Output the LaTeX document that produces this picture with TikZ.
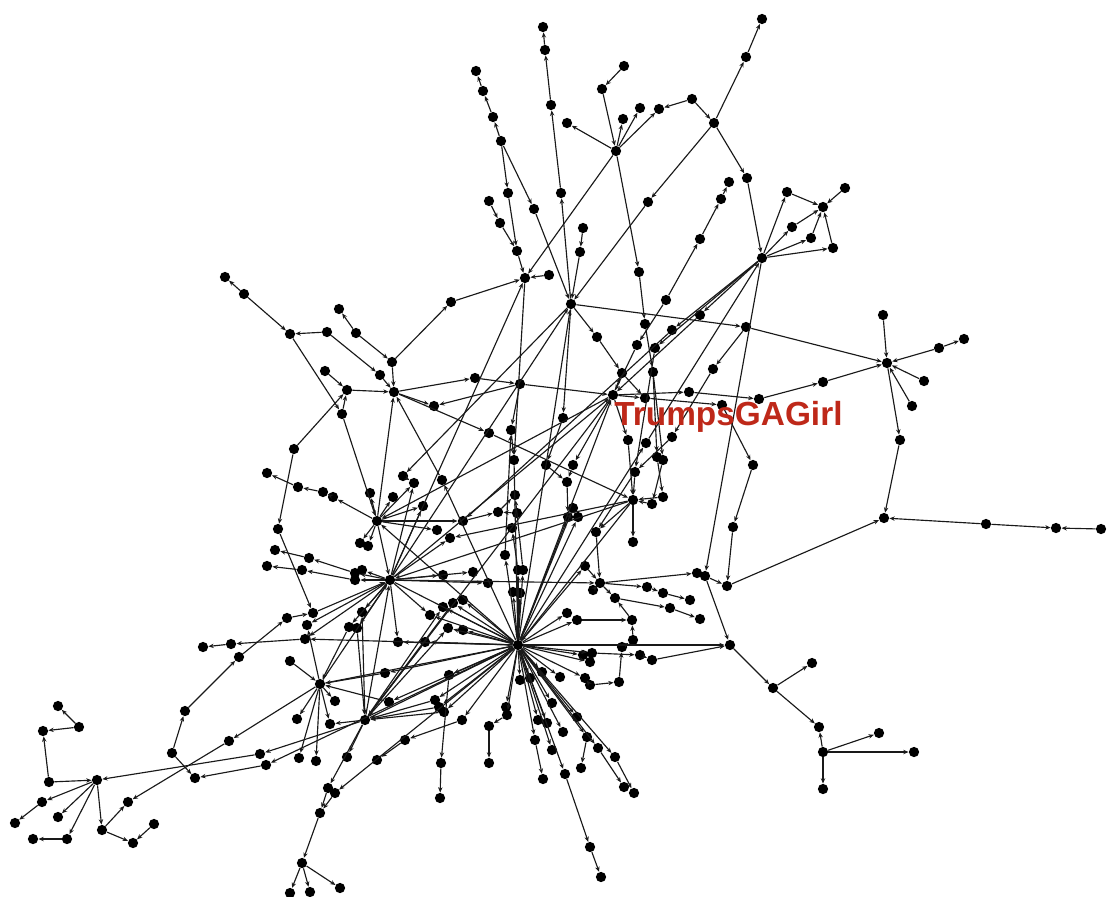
\documentclass[tikz,border=0pt]{standalone}
\usepackage{fontspec}
\setmainfont{Liberation Sans}
\usetikzlibrary{arrows.meta}
\definecolor{labred}{RGB}{190,40,25}
\begin{document}
\begin{tikzpicture}[x=0.02cm,y=-0.02cm,
  dot/.style={circle,fill=black,inner sep=0pt,minimum size=0.205cm},
  e/.style={draw=black!90,line width=0.65pt,-{Stealth[length=3pt,width=2.5pt]}}]
\useasboundingbox (0,0) rectangle (1114,896);
% hubs
\foreach \n/\x/\y in {H1/518/645,H2/390/580,H3/365/720,H4/320/684,H5/97/780,H6/613/395,H7/571/304,H8/525/278,H9/616/151,H10/714/123,H11/762/258,H12/823/207,H13/887/363,H14/884/518,H15/600/583,H16/633/500,H17/377/521,H18/394/392,H19/730/645,H20/823/752}
  \node[dot] (\n) at (\x,\y) {};
% top
\foreach \n/\x/\y in {t1/543/27,t2/545/50,t3/551/105,t4/561/193,a1/476/71,a2/483/91,a3/493/117,a4/501/141,a5/508/193,a6/517/251,a7/534/209,b1/489/201,b2/500/223,c1/583/228,c2/580/252,d1/549/275,d2/451/302,e1/567/123,e2/623/119,e3/640/108,e4/659/109,e5/692/99,e6/602/89,e7/624/66,f1/639/272,f2/645/324,g1/746/57,g2/762/19,g3/648/202,k1/747/178,k2/729/182,k3/721/199,k4/700/239,k5/666/300,m1/787/192,m2/845/188,m3/792/227,m4/811/238,m5/833/248}
  \node[dot] (\n) at (\x,\y) {};
% right
\foreach \n/\x/\y in {r1/746/327,r2/883/315,r3/939/348,r4/964/339,r5/924/381,r6/912/406,r7/823/382,r8/759/399,r9/900/440,r10/986/524,r11/1056/528,r12/1101/529,r13/689/392,r14/700/315,r15/672/330,r16/753/465,r17/733/527,r18/727/586,r19/705/576,r20/697/573,r21/722/405}
  \node[dot] (\n) at (\x,\y) {};
% left
\foreach \n/\x/\y in {l1/225/277,l2/244/294,l3/290/334,l4/327/332,l5/339/309,l6/356/333,l7/325/371,l8/347/390,l9/342/414,l10/294/449,l11/267/473,l12/298/487,l13/323/492,l14/333/497,l15/278/529,l16/275/550,l17/309/558,l18/267/566,l19/302/570,l20/392/362,l21/380/375,l22/355/573,l23/355/580,l24/362/570}
  \node[dot] (\n) at (\x,\y) {};
% centre
\foreach \n/\x/\y in {c3/475/378,c4/520/384,c5/434/406,c6/489/433,c7/511/430,c8/563/418,c9/597/337,c10/637/345,c11/655/348,c12/622/373,c13/653/372,c14/713/369,c15/645/398,c16/628/440,c17/646/443,c18/672/437,c19/546/465,c20/573/465,c21/567/482,c22/514/460,c23/403/476,c24/414/483,c25/442/480,c26/657/457,c27/663/460,c28/635/472,c29/663/497,c30/652/504,c31/573/508,c32/568/517,c33/578/517,c34/370/493,c35/393/497,c36/423/506,c37/463/521,c38/498/512,c39/515/495,c40/517/513,c41/512/528,c42/437/530,c43/450/538,c44/360/543,c45/368/546,c46/596/532,c47/633/542,c48/505/555,c49/443/575,c50/473/572,c51/488/583,c52/518/570,c53/523/570,c54/585/566,c55/513/592,c56/520/593,c57/647/587,c58/663/593,c59/690/600,c60/670/608,c61/700/619,c62/593/590,c63/615/598,c64/567/613,c65/577/620,c66/632/620,c67/633/640,c68/622/647,c69/583/655,c70/592/653,c71/590/662,c72/640/655,c73/652/660,c74/585/678,c75/590/685,c76/619/682,c77/443/607,c78/453/603,c79/463/600,c80/430/615,c81/448/628,c82/463/630,c83/398/642,c84/425/642,c85/362/612,c86/313/613,c87/307/625,c88/305/639,c89/349/627,c90/357/628,c91/287/618,c92/290/661,c93/239/657,c94/231/644,c95/203/647}
  \node[dot] (\n) at (\x,\y) {};
% lower
\foreach \n/\x/\y in {p1/385/673,p2/449/675,p3/389/702,p4/435/700,p5/439/707,p6/444/712,p7/462/720,p8/405/740,p9/377/760,p10/441/763,p11/440/798,p12/489/726,p13/489/763,p14/506/707,p15/507/715,p16/520/680,p17/530/678,p18/542/672,p19/560/677,p20/552/703,p21/538/720,p22/547/723,p23/535/740,p24/543/779,p25/552/750,p26/563/732,p27/565/774,p28/577/717,p29/587/737,p30/581/768,p31/598/748,p32/624/787,p33/615/757,p34/634/793,p35/590/847,p36/601/877,q1/335/701,q2/297/719,q3/330/724,q4/299/758,q5/316/761,q6/347/757,q7/229/741,q8/260/754,q9/266/765,q10/185/711,q11/172/753,q12/195/778,q13/328/788,q14/335/793,q15/320/813,q16/302/863,q17/290/893,q18/310/892,q19/340/888,w1/49/782,w2/43/731,w3/79/727,w4/58/706,w5/42/802,w6/15/823,w7/58/817,w8/67/839,w9/33/839,w10/102/830,w11/133/843,w12/154/824,w13/128/802,s1/773/688,s2/812/663,s3/819/727,s4/879/733,s5/914/752,s6/823/789}
  \node[dot] (\n) at (\x,\y) {};
% connectors: top
\foreach \a/\b in {t2/t1,t3/t2,t4/t3,H7/t4,a2/a1,a3/a2,a4/a3,a4/a5,a5/a6,a6/H8,a4/a7,a7/H7,b1/b2,b2/a6,c1/c2,c2/H7,d1/H8,d2/H8,l20/d2,H9/e1,H9/e2,H9/e3,H9/e4,e5/e4,e5/H10,e7/e6,e6/H9,H9/f1,f1/f2,H9/H8,H10/g1,g1/g2,H10/g3,g3/H7,H10/k1,k1/H11,k3/k2,k4/k3,k5/k4,k5/c10,c10/H6,H11/m1,m1/H12,H11/m3,m3/H12,H11/m4,m4/H12,H11/m5,m5/H12,m2/H12,H11/r14,r14/H6,H11/r15,r15/c37,H11/c11,c11/c28,H11/r19}
  \draw[e] (\a) -- (\b);
% right
\foreach \a/\b in {H7/r1,r1/H13,r2/H13,r3/H13,r3/r4,r5/H13,r6/H13,r7/H13,r8/r7,r13/r8,H6/r13,H13/r9,r9/H14,r10/H14,r10/r11,r12/r11,r18/H14,r1/c14,c14/c18,c18/c28,c15/r21,r21/r16,r16/r17,r17/r18,r19/r18,H15/r20,r19/H19}
  \draw[e] (\a) -- (\b);
% left
\foreach \a/\b in {l2/l1,l2/l3,l4/l3,l6/l5,l6/l20,l4/l21,l3/l9,l9/H17,l7/l8,l9/l8,l8/H18,l10/l8,l10/l15,l15/c86,l12/l11,l13/l12,l14/l13,H17/l14,l17/l16,l22/l17,H2/l22,l19/l18,l23/l19,H2/l23,H2/l24,l21/H18,l20/H18}
  \draw[e] (\a) -- (\b);
% centre
\foreach \a/\b in {H18/c3,c3/c4,c4/H6,c4/c5,H18/c5,H18/c6,c6/H16,c4/c7,c7/c22,H8/c22,c22/H1,H17/c34,H17/c35,c23/c24,H17/c36,H17/c37,c37/c38,c38/c39,c40/c38,H17/H18,H17/c44,H17/c45,H17/H2,H17/c24,H17/c42,H2/H1,H2/c49,H2/c50,H2/c51,H2/c85,H2/c89,H2/c90,H2/c83,H2/c87,H2/c88,H2/H7,H2/H8,H2/H6,H2/c43,H2/H15,H2/c24,H2/c36,H7/c9,c9/c12,c12/c15,H6/c15,H6/c12,H6/c16,c16/H16,H7/c8,c8/c19,c19/c21,c20/c21,c21/c32,H6/c20,f2/c13,c13/c26,c26/c29,c13/c27,c27/c30,c29/H16,c30/H16,c28/H16,c28/c46,H16/c47,H16/c46,c46/H15,H16/H2,H16/H1,H16/c43,c17/H11,H1/c17,H1/H6,H1/H7,H1/c31,H1/c32,H1/c33,H1/c48,c48/c7,H1/c52,H1/c53,c52/c41,c53/c39,H1/c54,c54/H15,H1/c55,H1/c56,c57/c58,H15/c57,c58/c59,H15/c63,c63/c60,c60/c61,H15/c62,H1/c64,H1/c65,c65/c66,c75/c76,c76/c68,c68/c67,c67/c66,c66/c63,H1/c69,H1/c70,H1/c71,c70/c72,c72/c73,c73/H19,H1/c74,c74/c75,H1/H19,H1/c77,H1/c78,H1/c79,H1/c80,H1/c81,H1/c82,H3/c78,H3/c81,H3/c77,H1/c84,c84/H3,H1/c83,H2/c80,c85/H3,c90/H3,c89/H4,H1/c88,c88/c94,c94/c95,c92/H4,H4/H2,H4/c87,q11/q10,q10/c93,c93/c91,c91/c86,c86/H2,H1/H17,H1/c25,c25/H18,H7/c23,H6/H17,H6/H3}
  \draw[e] (\a) -- (\b);
% lower
\foreach \a/\b in {H1/p1,p1/H4,H1/p2,p2/p10,p10/p11,H1/p3,p3/H4,H1/p4,H1/p5,H1/p6,p4/H3,p5/H3,p6/H3,H1/p7,p7/p8,p8/p9,H1/p14,H1/p15,p15/p12,p12/p13,H1/p16,H1/p17,H1/p18,H1/p19,H1/p20,H1/p21,H1/p22,H1/p23,p23/p24,H1/p25,H1/p26,H1/p27,p27/p35,p35/p36,H1/p28,H1/p29,p29/p30,H1/p31,p31/p32,H1/p33,p33/p34,H3/H1,H3/H2,H3/q3,H3/q6,H3/q8,q8/H5,H3/q13,H1/q14,q13/q15,q14/q15,q15/q16,q16/q17,q16/q18,q16/q19,H4/q1,H4/q2,H4/q3,H4/q4,H4/q5,H4/q7,q7/w13,w10/w13,H4/H1,H1/q9,q9/q12,q11/q12,w1/H5,w1/w2,w3/w2,w3/w4,H5/w5,w5/w6,H5/w7,H5/w8,w8/w9,H5/w10,w10/w11,w12/w11,H19/s1,s1/s2,s1/s3,H20/s3,H20/s4,H20/s5,H20/s6}
  \draw[e] (\a) -- (\b);
\node[text=labred,font=\bfseries\fontsize{19}{19}\selectfont,anchor=base west,inner sep=0pt] (lbl) at (614,425) {TrumpsGAGirl};
\end{tikzpicture}
\end{document}
